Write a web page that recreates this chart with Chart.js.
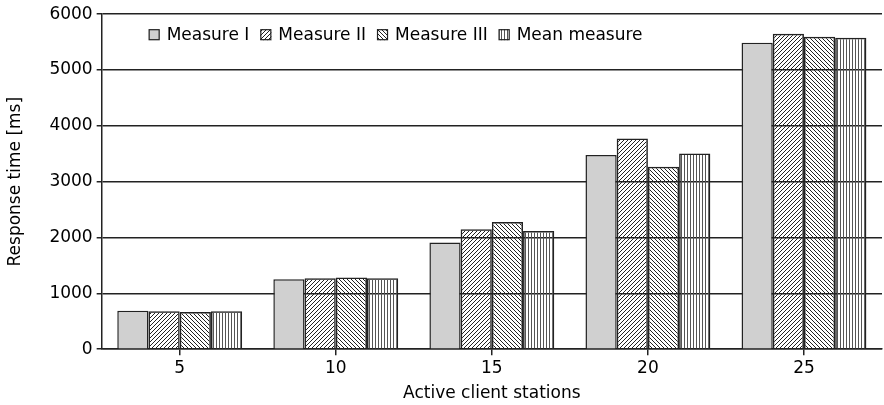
<!DOCTYPE html>
<html>
<head>
<meta charset="utf-8">
<script src="https://cdn.jsdelivr.net/npm/chart.js@4/dist/chart.umd.min.js"></script>
<style>
  body { margin: 0; background: #fff; }
  #chart { display: block; }
</style>
</head>
<body>
<canvas id="chart" width="884" height="405"></canvas>
<script>
// Data
const categories = ["5", "10", "15", "20", "25"];
const measure1 = [690, 1255, 1910, 3480, 5490];
const measure2 = [680, 1270, 2150, 3775, 5650];
const measure3 = [665, 1285, 2280, 3270, 5595];
const meanMeasure = [680, 1270, 2115, 3505, 5580];
const seriesNames = ["Measure I", "Measure II", "Measure III", "Mean measure"];
const yTicks = [0, 1000, 2000, 3000, 4000, 5000, 6000];

const FONT = "DejaVu Sans";
const INK = "#222";
const TEXT = "#000";

// hatch patterns for the bars
function hatch(kind) {
  const c = document.createElement("canvas");
  const s = kind === "vert" ? 3 : 4;
  c.width = s;
  c.height = s;
  const g = c.getContext("2d");
  g.strokeStyle = INK;
  g.lineWidth = 1;
  g.beginPath();
  if (kind === "fwd") {
    g.moveTo(-1, s + 1); g.lineTo(s + 1, -1);
    g.moveTo(-1, 1); g.lineTo(1, -1);
    g.moveTo(s - 1, s + 1); g.lineTo(s + 1, s - 1);
  } else if (kind === "back") {
    g.moveTo(-1, -1); g.lineTo(s + 1, s + 1);
    g.moveTo(s - 1, -1); g.lineTo(s + 1, 1);
    g.moveTo(-1, s - 1); g.lineTo(1, s + 1);
  } else {
    g.strokeStyle = "#555";
    g.moveTo(0.5, 0); g.lineTo(0.5, s);
  }
  g.stroke();
  return g.createPattern(c, "repeat");
}

// legend drawn inside the plot, like the original
const insideLegend = {
  id: "insideLegend",
  afterDraw(chart) {
    const ctx = chart.ctx;
    const area = chart.chartArea;
    let x = area.left + 47;
    const y = area.top + 15;
    const box = 11;
    ctx.save();
    ctx.font = "17px '" + FONT + "'";
    ctx.textBaseline = "middle";
    chart.data.datasets.forEach(function (ds) {
      ctx.fillStyle = "#fff";
      ctx.fillRect(x, y, box, box);
      ctx.fillStyle = ds.backgroundColor;
      ctx.fillRect(x, y, box, box);
      ctx.strokeStyle = INK;
      ctx.lineWidth = 1.2;
      ctx.strokeRect(x + 0.5, y + 0.5, box - 1, box - 1);
      x += box + 7;
      ctx.fillStyle = TEXT;
      ctx.fillText(ds.label, x, y + box / 2 + 0.5);
      x += ctx.measureText(ds.label).width + 11;
    });
    ctx.restore();
  },
};

const fills = ["#d0d0d0", hatch("fwd"), hatch("back"), hatch("vert")];
const values = [measure1, measure2, measure3, meanMeasure];

new Chart(document.getElementById("chart"), {
  type: "bar",
  data: {
    labels: categories,
    datasets: values.map(function (v, i) {
      return {
        label: seriesNames[i],
        data: v,
        backgroundColor: fills[i],
        borderColor: INK,
        borderWidth: 1.5,
        categoryPercentage: 0.8,
        barPercentage: 1,
      };
    }),
  },
  options: {
    responsive: false,
    animation: false,
    devicePixelRatio: 1,
    layout: { padding: { top: 12, right: 2, left: 0, bottom: 1 } },
    plugins: {
      legend: { display: false },
      tooltip: { enabled: false },
    },
    scales: {
      x: {
        offset: true,
        grid: {
          display: true,
          offset: false,
          drawOnChartArea: false,
          drawTicks: true,
          tickLength: 6,
          color: INK,
          lineWidth: 1.5,
        },
        border: { display: true, color: INK, width: 1.5 },
        ticks: { color: TEXT, padding: 3, font: { family: FONT, size: 17 } },
        title: {
          display: true,
          text: "Active client stations",
          color: TEXT,
          padding: { top: 2, bottom: 0 },
          font: { family: FONT, size: 17 },
        },
      },
      y: {
        min: 0,
        max: 6000,
        afterBuildTicks: function (axis) {
          axis.ticks = yTicks.map(function (v) { return { value: v }; });
        },
        grid: { color: INK, lineWidth: 1.5, tickLength: 5 },
        border: { display: true, color: INK, width: 1.5 },
        ticks: {
          color: TEXT,
          padding: 4,
          font: { family: FONT, size: 17 },
          callback: function (v) { return String(v); },
        },
        title: {
          display: true,
          text: "Response time [ms]",
          color: TEXT,
          padding: { top: 5, bottom: 20 },
          font: { family: FONT, size: 17 },
        },
      },
    },
  },
  plugins: [insideLegend],
});
</script>
</body>
</html>
